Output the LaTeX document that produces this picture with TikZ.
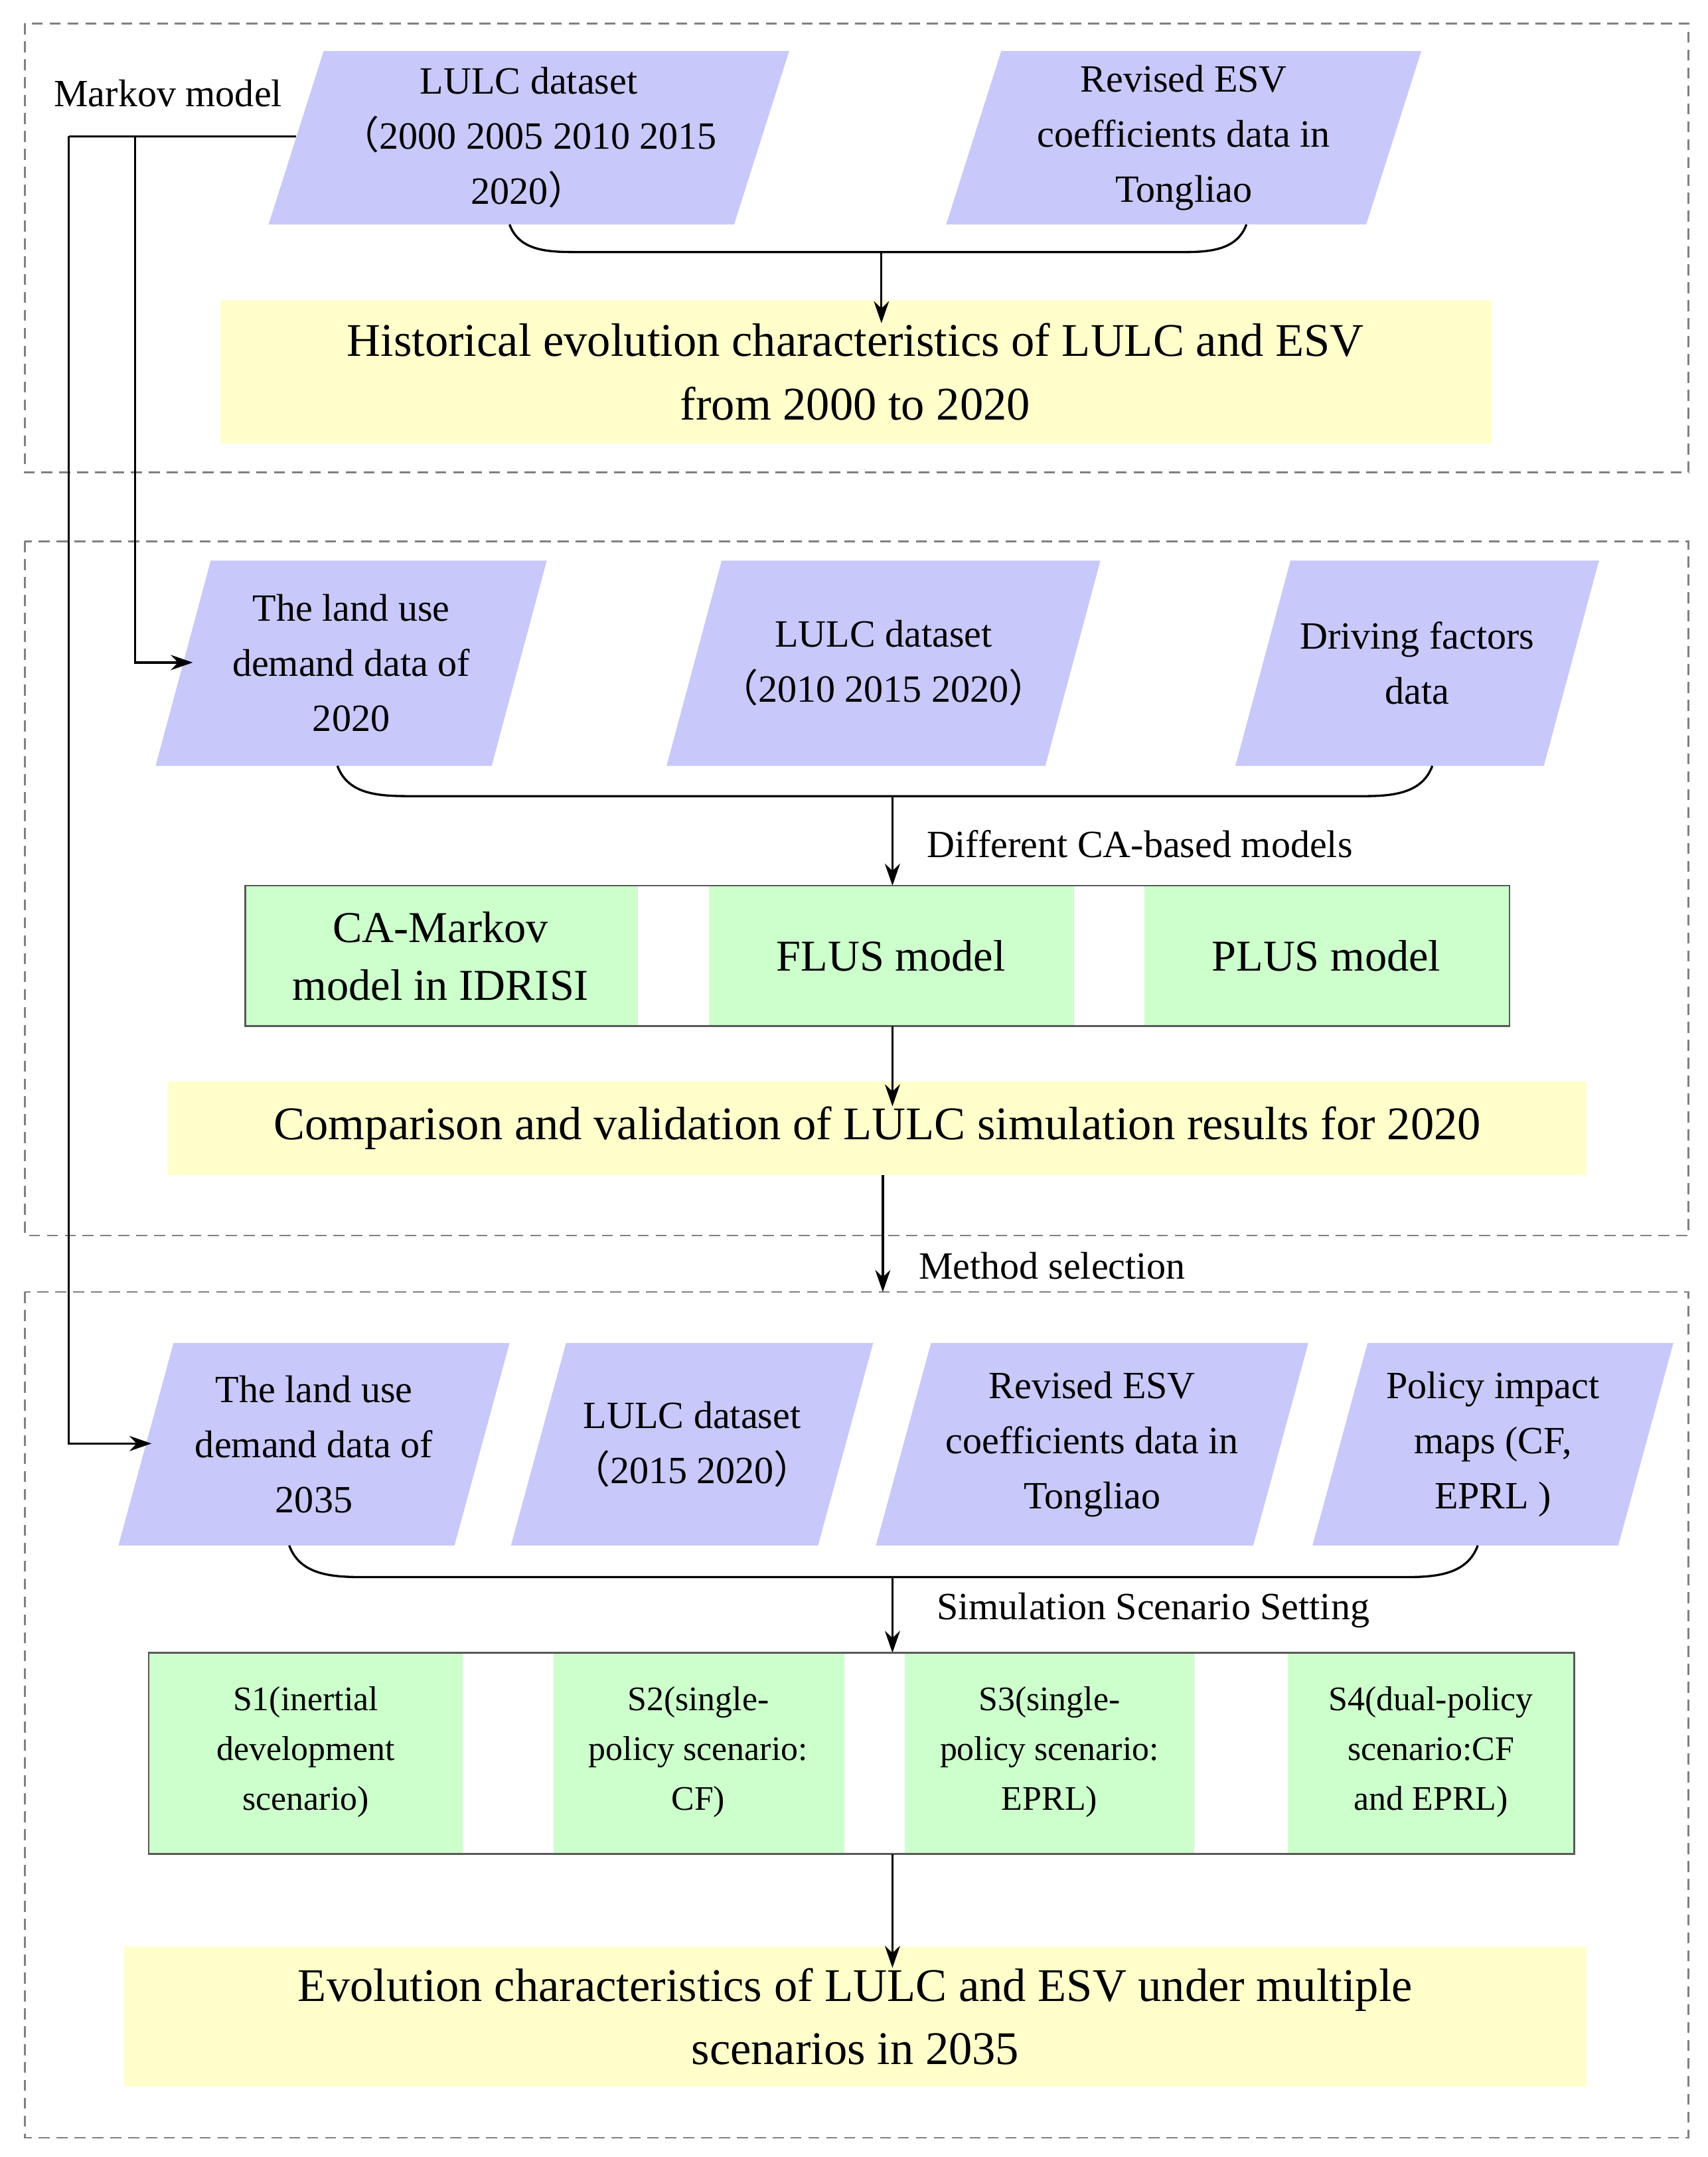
\documentclass[tikz,border=0pt]{standalone}
\usepackage{fontspec}
\setmainfont{Liberation Serif}
\newfontfamily\cjk{Noto Sans CJK SC}
\usetikzlibrary{arrows.meta}
\definecolor{lav}{RGB}{200,200,250}
\definecolor{yel}{RGB}{255,255,204}
\definecolor{grn}{RGB}{204,255,204}
\newcommand{\lp}{{\cjk （}}
\newcommand{\rp}{{\cjk ）}}
% parallelogram: x1 (bottom-left), x2 (top-right), y1 top, y2 bottom
\newcommand{\para}[6]{%
  \fill[lav] ({#1+40},#3) -- (#2,#3) -- ({#2-40},#4) -- (#1,#4) -- cycle;
  \node[ptext] (#5) at ({(#1+#2)/2},{(#3+#4)/2}) {#6};}
\begin{document}
\begin{tikzpicture}[x=1pt,y=-1pt,
  ptext/.style={align=center,font=\fontsize{28}{40}\selectfont,inner sep=0},
  ytext/.style={align=center,font=\fontsize{34}{46}\selectfont,inner sep=0},
  stext/.style={align=center,font=\fontsize{25}{36}\selectfont,inner sep=0},
  ltext/.style={font=\fontsize{28}{34}\selectfont,anchor=west,inner sep=0},
  dbox/.style={draw=gray,dash pattern=on 8pt off 5pt,line width=1.2pt},
  arr/.style={-{Stealth[length=16pt,width=11pt]},line width=1.6pt},
  ln/.style={line width=1.6pt}]
\useasboundingbox (0,0) rectangle (1240,1566);
\fill[white] (0,0) rectangle (1240,1566);
% outer dashed boxes
\draw[dbox] (18,17) rectangle (1226,343);
\draw[dbox] (18,393) rectangle (1226,897);
\draw[dbox] (18,938) rectangle (1226,1552);
% section 1
\node[ptext] (mk) at (122,68) {Markov model};
\para{195}{573}{37}{163}{a1}{LULC dataset\\\lp 2000 2005 2010 2015\\2020\rp}
\para{687}{1032}{37}{163}{a2}{Revised ESV\\coefficients data in\\Tongliao}
\fill[yel] (160,218) rectangle (1083,322);
\node[ytext] (y1) at (621,270) {Historical evolution characteristics of LULC and ESV\\from 2000 to 2020};
\coordinate (c1a) at (370,163); \coordinate (c1m) at (640,183); \coordinate (c1b) at (905,163);
\draw[ln] (c1a) to[out=-70,in=180] (420,183) -- (860,183) to[out=0,in=-110] (c1b);
\draw[arr] (c1m) -- (y1.north -| c1m);
% section 2
\para{113}{397}{407}{556}{b1}{The land use\\demand data of\\2020}
\para{484}{799}{407}{556}{b2}{LULC dataset\\\lp 2010 2015 2020\rp}
\para{897}{1161}{407}{556}{b3}{Driving factors\\data}
\coordinate (c2a) at (245,556); \coordinate (c2m) at (648,578); \coordinate (c2b) at (1040,556);
\draw[ln] (c2a) to[out=-70,in=180] (300,578) -- (990,578) to[out=0,in=-110] (c2b);
\coordinate (g1t) at (648,643);
\draw[arr] (c2m) -- (g1t);
\node[ltext] (l1) at (673,613) {Different CA-based models};
\fill[grn] (178,643) rectangle (463,745);
\fill[grn] (515,643) rectangle (780,745);
\fill[grn] (831,643) rectangle (1096,745);
\draw[line width=1.2pt,gray!70!black] (178,643) rectangle (1096,745);
\node[ytext,font=\fontsize{32}{42}\selectfont] (g11) at (320,694) {CA-Markov\\model in IDRISI};
\node[ytext,font=\fontsize{32}{42}\selectfont] (g12) at (647,694) {FLUS model};
\node[ytext,font=\fontsize{32}{42}\selectfont] (g13) at (963,694) {PLUS model};
\coordinate (g1b) at (648,745);
\fill[yel] (122,785) rectangle (1152,853);
\node[ytext] (y2) at (637,819) {Comparison and validation of LULC simulation results for 2020};
\draw[arr] (g1b) -- (y2.north -| g1b);
\coordinate (y2b) at (641,853); \coordinate (s3t) at (641,938);
\draw[arr] (y2b) -- (s3t);
\node[ltext] (l2) at (667,919) {Method selection};
% section 3
\para{86}{370}{975}{1122}{d1}{The land use\\demand data of\\2035}
\para{371}{634}{975}{1122}{d2}{LULC dataset\\\lp 2015 2020\rp}
\para{636}{950}{975}{1122}{d3}{Revised ESV\\coefficients data in\\Tongliao}
\para{953}{1215}{975}{1122}{d4}{Policy impact\\maps (CF,\\EPRL )}
\coordinate (c3a) at (210,1122); \coordinate (c3m) at (648,1145); \coordinate (c3b) at (1073,1122);
\draw[ln] (c3a) to[out=-70,in=180] (265,1145) -- (1020,1145) to[out=0,in=-110] (c3b);
\coordinate (g2t) at (648,1200);
\draw[arr] (c3m) -- (g2t);
\node[ltext] (l3) at (680,1169) {Simulation Scenario Setting};
\fill[grn] (108,1200) rectangle (336,1346);
\fill[grn] (402,1200) rectangle (613,1346);
\fill[grn] (657,1200) rectangle (867,1346);
\fill[grn] (935,1200) rectangle (1143,1346);
\draw[line width=1.2pt,gray!70!black] (108,1200) rectangle (1143,1346);
\node[stext] (s1) at (222,1272) {S1(inertial\\development\\scenario)};
\node[stext] (s2) at (507,1272) {S2(single-\\policy scenario:\\CF)};
\node[stext] (s3) at (762,1272) {S3(single-\\policy scenario:\\EPRL)};
\node[stext] (s4) at (1039,1272) {S4(dual-policy\\scenario:CF\\and EPRL)};
\coordinate (g2b) at (648,1346);
\fill[yel] (90,1413) rectangle (1152,1515);
\node[ytext] (y3) at (621,1464) {Evolution characteristics of LULC and ESV under multiple\\scenarios in 2035};
\draw[arr] (g2b) -- (y3.north -| g2b);
% Markov lines
\coordinate (m0) at (215,99);
\coordinate (m1) at (98,99);
\coordinate (m2) at (50,99);
\draw[ln] (m0) -- (m2);
\draw[arr] (m1) -- (98,481) -- (140,481);
\draw[arr] (m2) -- (50,1048) -- (110,1048);
\end{tikzpicture}
\end{document}
